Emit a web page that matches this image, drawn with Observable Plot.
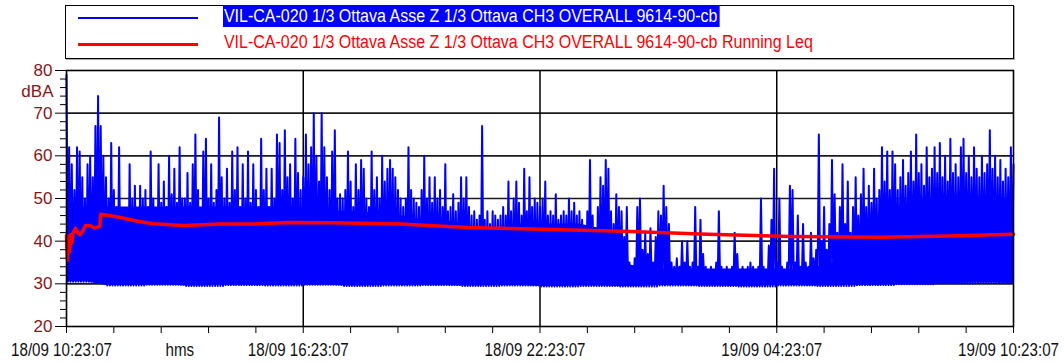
<!DOCTYPE html>
<html><head><meta charset="utf-8">
<script src="https://cdn.jsdelivr.net/npm/d3@7"></script>
<script src="https://cdn.jsdelivr.net/npm/@observablehq/plot@0.6"></script>
<style>
body{margin:0;background:#fff;}
#legend{position:relative;height:62px;width:1064px;font-family:"Liberation Sans",Arial,sans-serif;}
#box{position:absolute;left:65px;top:5px;width:947px;height:52px;border:1px solid #000;box-shadow:1px 1px 0 #aaa;}
.sw{position:absolute;left:12px;width:120px;}
.lbl{position:absolute;left:157px;font-size:18px;line-height:22px;white-space:nowrap;padding:0 2px 0 1px;transform:scaleX(0.89);transform-origin:left center;}
</style></head>
<body>
<div id="legend"><div id="box"></div></div>
<div id="chart"></div>
<script>
// ---- data ----
const seriesNames = [
  "VIL-CA-020 1/3 Ottava Asse Z 1/3 Ottava CH3 OVERALL 9614-90-cb",
  "VIL-CA-020 1/3 Ottava Asse Z 1/3 Ottava CH3 OVERALL 9614-90-cb Running Leq"
];
const seriesColors = ["#0000ff", "#ff0000"];

// peak level per 4-minute bin (dBA), from 18/09 10:23:07 to 19/09 10:23:07
const binMinutes = 4;
const peakLevels = [
  79,62,58,52,62,61,55,50,58,60,55,67,74,67,60,
  55,50,63,52,48,62,47,45,46,58,50,53,47,53,50,
  52,48,61,50,47,58,49,54,48,60,51,57,49,62,50,
  50,56,49,58,65,52,47,61,64,50,58,49,52,69,55,
  50,57,49,61,52,62,48,58,50,61,49,58,52,48,64,
  52,57,48,57,50,65,63,52,66,55,58,50,64,56,52,
  55,65,58,62,70,60,54,70,62,55,52,61,66,50,51,
  50,52,61,54,48,58,52,59,57,50,48,61,52,55,50,
  60,54,57,59,57,55,52,50,48,50,62,52,50,49,48,
  52,60,50,55,49,55,50,52,48,58,47,48,51,47,49,
  55,50,55,48,46,47,45,46,67,45,47,44,47,46,45,
  46,48,46,54,47,50,54,49,46,57,47,55,48,50,49,
  48,50,54,46,47,46,51,45,46,47,46,50,47,49,46,
  47,45,35,47,59,46,42,48,55,53,59,57,47,44,51,
  48,47,41,48,35,34,36,48,50,38,42,37,43,35,41,
  47,46,53,48,44,35,34,36,34,40,35,40,34,35,48,
  34,45,37,34,33,34,33,35,47,34,33,34,33,34,42,
  37,33,34,33,34,35,34,33,34,50,34,33,39,45,57,
  35,50,34,33,35,53,52,35,46,34,44,35,34,42,36,
  38,65,40,48,38,44,59,51,42,48,58,44,54,42,48,
  55,46,51,57,48,53,49,57,50,52,62,54,61,52,61,
  58,52,55,59,53,56,61,54,65,56,58,53,62,55,57,
  62,56,63,55,60,54,64,56,58,55,62,64,56,60,55,
  62,57,55,60,56,58,66,57,60,55,59,54,57,55,62,58
];
// background floor level per hour (dBA)
const floorHourly = [30.5,29.6,29.8,29.5,29.7,29.6,29.8,29.5,29.6,29.7,29.5,29.6,29.4,29.5,29.4,29.6,29.5,29.4,29.6,29.5,29.7,29.9,30.1,30.2,30.1];
// upper edge of the dense band, every 30 minutes (dBA)
const bandTopHalfHourly = [47,48,48,48,48,48,48,48,48,48,48,48,48,47,47,47,46,46,45,45,44,43,43,44,44,44,44,43,35,34,33.5,33.5,33.5,33.5,33.5,33.5,33.5,33.5,34,35,37,41,45,47,48,48,48,48,48];
// running Leq: minutes from start, value
const leqMinutes = [0,1.5,3,4.5,6,8,10,13.7,17,21,25,29,36.5,42,47,50.5,52,62,80,110,132,178,234,285,336,401,508,610,721,847,975,1101,1238,1340,1440];
const leqValues  = [41.3,35.5,40.5,37.5,41.5,39.5,42,43,42,41.5,42.5,43.7,43.6,43.1,43.3,43.4,46.3,46.1,45.6,44.6,44.1,43.7,44,44,44.4,44.3,44.0,43.2,42.8,42.3,41.6,41.1,40.9,41.2,41.6];

const xLabelMinutes = [0,180,360,720,1080,1440];
const xLabelTexts = ["18/09 10:23:07","hms","18/09 16:23:07","18/09 22:23:07","19/09 04:23:07","19/09 10:23:07"];
const xGridMinutes = [360,720,1080];
const xTickMinutes = d3.range(0, 1441, 72);
const yMajorTicks = [20,30,40,50,60,70,80];
const yMinorTicks = d3.range(20, 81, 2).filter(v => v % 10 !== 0);
const yGrid = [30,40,50,60,70];
const yUnit = "dBA";

// ---- legend ----
const box = document.getElementById("box");
seriesNames.forEach((name, i) => {
  const sw = document.createElement("div");
  sw.className = "sw";
  sw.style.top = (i === 0 ? 11 : 37) + "px";
  sw.style.borderTop = (i === 0 ? 2 : 3) + "px solid " + seriesColors[i];
  box.appendChild(sw);
  const lb = document.createElement("div");
  lb.className = "lbl";
  lb.textContent = name;
  lb.style.top = (i === 0 ? -1 : 25) + "px";
  if (i === 0) { lb.style.background = seriesColors[0]; lb.style.color = "#fff"; }
  else lb.style.color = seriesColors[1];
  box.appendChild(lb);
});

// ---- derived tables ----
const zig = [];
peakLevels.forEach((v, i) => {
  const t = i * binMinutes;
  const lo = floorHourly[Math.min(24, Math.floor(t / 60))];
  zig.push({t, v});
  if (i < peakLevels.length - 1) zig.push({t: t + binMinutes / 2, v: lo});
});
const band = bandTopHalfHourly.map((top, k) => ({t: k * 30, lo: floorHourly[Math.floor(k / 2)], hi: top}));
const leq = leqMinutes.map((t, i) => ({t, v: leqValues[i]}));
const xLabels = xLabelMinutes.map((t, i) => ({t, s: xLabelTexts[i]}));

const chart = Plot.plot({
  width: 1064, height: 300,
  marginLeft: 66, marginRight: 51, marginTop: 8, marginBottom: 36,
  x: {domain: [0, 1440]},
  y: {domain: [20, 80]},
  style: {background: "#fff", fontFamily: '"Liberation Sans",Arial,sans-serif', overflow: "visible"},
  marks: [
    Plot.ruleY(yGrid, {stroke: "#1a1a1a", strokeWidth: 1.6}),
    Plot.ruleX(xGridMinutes, {stroke: "#000", strokeWidth: 1.5}),
    Plot.areaY(band, {x: "t", y1: "lo", y2: "hi", fill: seriesColors[0]}),
    Plot.line(zig, {x: "t", y: "v", stroke: seriesColors[0], strokeWidth: 2}),
    Plot.line(leq, {x: "t", y: "v", stroke: seriesColors[1], strokeWidth: 3.5}),
    Plot.frame({stroke: "#000", strokeWidth: 1.6}),
    Plot.axisY({ticks: yMajorTicks, tickSize: 11, tickPadding: 3, fontSize: 17, stroke: "#000", fill: "#8b1414", label: null}),
    Plot.axisY({ticks: yMinorTicks, tickSize: 6, tickFormat: () => "", stroke: "#000", label: null}),
    Plot.axisX({ticks: xTickMinutes, tickSize: 7, tickFormat: () => "", stroke: "#000", label: null}),
    Plot.text(xLabels, {x: "t", text: "s", frameAnchor: "bottom", lineAnchor: "middle", dy: 24, dx: -5, fontSize: 18, fill: "#111"}),
    Plot.text([yUnit], {frameAnchor: "top-left", lineAnchor: "middle", dx: -13, dy: 21, textAnchor: "end", fontSize: 17, fill: "#8b1414"})
  ]
});
document.getElementById("chart").appendChild(chart);
// condense the x-axis labels horizontally, as in the reference
chart.querySelectorAll("text").forEach(el => {
  if (xLabelTexts.includes(el.textContent)) {
    const w = el.getComputedTextLength();
    el.setAttribute("textLength", (w * 0.84).toFixed(1));
    el.setAttribute("lengthAdjust", "spacingAndGlyphs");
  }
});
</script>
</body></html>
